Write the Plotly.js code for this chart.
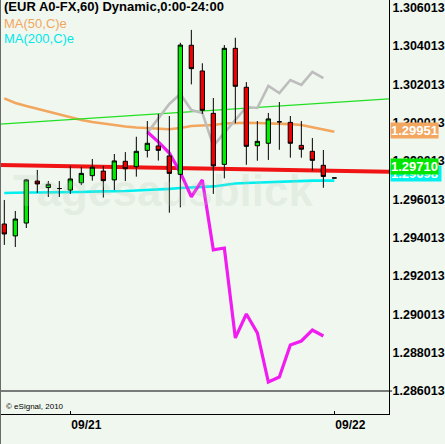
<!DOCTYPE html>
<html><head><meta charset="utf-8">
<script src="https://cdn.plot.ly/plotly-3.0.1.min.js"></script>
<style>html,body{margin:0;padding:0;background:#f0f7ef;}#chart{width:445px;height:444px;}</style>
</head><body><div id="chart"></div>
<script>
const times = ['2010-09-20 18:00','2010-09-20 19:00','2010-09-20 20:00','2010-09-20 21:00','2010-09-20 22:00','2010-09-20 23:00',
  '2010-09-21 00:00','2010-09-21 01:00','2010-09-21 02:00','2010-09-21 03:00','2010-09-21 04:00','2010-09-21 05:00',
  '2010-09-21 06:00','2010-09-21 07:00','2010-09-21 08:00','2010-09-21 09:00','2010-09-21 10:00','2010-09-21 11:00',
  '2010-09-21 12:00','2010-09-21 13:00','2010-09-21 14:00','2010-09-21 15:00','2010-09-21 16:00','2010-09-21 17:00',
  '2010-09-21 18:00','2010-09-21 19:00','2010-09-21 20:00','2010-09-21 21:00','2010-09-21 22:00','2010-09-21 23:00',
  '2010-09-22 00:00'];
const openP  = [1.29472,1.29410,1.29477,1.29696,1.29662,1.29657,1.29649,1.29687,1.29724,1.29748,1.29702,1.29799,1.29771,1.29856,1.29879,1.29827,1.29731,1.30404,1.30270,1.30049,1.29783,1.30388,1.30185,1.29880,1.29893,1.30005,1.30002,1.29882,1.29851,1.29778,1.29712];
const highP  = [1.29597,1.29540,1.29707,1.29754,1.29696,1.29696,1.29775,1.29769,1.29811,1.29775,1.29837,1.29847,1.29927,1.30009,1.30046,1.30035,1.30417,1.30484,1.30310,1.30129,1.30405,1.30443,1.30212,1.30009,1.30051,1.30108,1.30035,1.30009,1.29920,1.29858,1.29712];
const lowP   = [1.29363,1.29352,1.29451,1.29634,1.29613,1.29613,1.29629,1.29675,1.29698,1.29610,1.29649,1.29696,1.29719,1.29819,1.29803,1.29531,1.29559,1.30200,1.30046,1.29629,1.29710,1.29997,1.29781,1.29802,1.29806,1.29859,1.29818,1.29818,1.29750,1.29661,1.29712];
const closeP = [1.29420,1.29498,1.29702,1.29681,1.29679,1.29657,1.29707,1.29736,1.29768,1.29698,1.29801,1.29760,1.29851,1.29893,1.29856,1.29736,1.30405,1.30282,1.30065,1.29775,1.30388,1.30190,1.29877,1.29903,1.30020,1.30005,1.29893,1.29862,1.29804,1.29720,1.29712];

const ma50  = [1.30127,1.30103,1.30087,1.30072,1.30056,1.30040,1.30026,1.30014,1.30004,1.29995,1.29986,1.29980,1.29975,1.29971,1.29967,1.29966,1.29973,1.29983,1.29986,1.29988,1.29996,1.29999,1.30000,1.29999,1.29997,1.29997,1.29993,1.29988,1.29975,1.29965,1.29953];
const ma200 = [1.29634,1.29636,1.29636,1.29636,1.29636,1.29636,1.29639,1.29639,1.29641,1.29641,1.29641,1.29644,1.29647,1.29649,1.29652,1.29655,1.29660,1.29662,1.29665,1.29668,1.29675,1.29683,1.29686,1.29688,1.29691,1.29694,1.29696,1.29698,1.29698,1.29698,1.29698];

const overlayTimes = times.slice(13, 30);
const grayLine    = [1.29947,1.30025,1.30098,1.30150,1.30066,1.30051,1.29879,1.29947,1.30014,1.30082,1.30077,1.30192,1.30155,1.30223,1.30197,1.30265,1.30233];
const magentaLine = [1.29952,1.29900,1.29842,1.29741,1.29614,1.29702,1.29337,1.29347,1.28878,1.29003,1.28904,1.28648,1.28674,1.28841,1.28862,1.28919,1.28888];

const trendTimes = ['2010-09-20 17:36:30','2010-09-22 04:58:00'];
const trendGreen = [1.29993, 1.30124];
const trendRed   = [1.29780, 1.29745];

const yTicks = [1.286013,1.288013,1.290013,1.292013,1.294013,1.296013,1.298013,1.300013,1.302013,1.304013,1.306013];
const xTickVals = ['2010-09-21 00:00','2010-09-22 00:00'];
const xTickText = ['09/21','09/22'];
const lastPrice = 1.29710, ma50Last = 1.29951, ma200Last = 1.29698;

const yRange = [1.284814, 1.306400];
const xRange = ['2010-09-20 17:36:30','2010-09-22 04:58:00'];
const BG = '#f0f7ef';
const FONT = 'Liberation Sans, Arial, sans-serif';

const traces = [
  {type:'scatter', mode:'lines', x:times, y:ma50, line:{color:'#f2a65e', width:2.6}, hoverinfo:'skip'},
  {type:'scatter', mode:'lines', x:times, y:ma200, line:{color:'#00f0f0', width:2.6}, hoverinfo:'skip'},
  {type:'scatter', mode:'lines', x:trendTimes, y:trendGreen, line:{color:'#22e022', width:1.2}, hoverinfo:'skip'},
  {type:'scatter', mode:'lines', x:trendTimes, y:trendRed, line:{color:'#f01414', width:4}, hoverinfo:'skip'},
  {type:'scatter', mode:'lines', x:overlayTimes, y:grayLine, line:{color:'#bdbdbd', width:2.6}, hoverinfo:'skip'},
  {type:'scatter', mode:'lines', x:overlayTimes, y:magentaLine, line:{color:'#f01cf0', width:3.2}, hoverinfo:'skip'},
  {type:'candlestick', x:times, open:openP, high:highP, low:lowP, close:closeP, yaxis:'y2',
    increasing:{fillcolor:'#00ee00', line:{color:'#000', width:1}},
    decreasing:{fillcolor:'#ee0000', line:{color:'#000', width:1}},
    whiskerwidth:0, hoverinfo:'skip'}
];

const layout = {
  width:445, height:444,
  margin:{l:0, r:56, t:0, b:30},
  paper_bgcolor:BG, plot_bgcolor:BG,
  showlegend:false,
  boxgap:0.44,
  font:{family:FONT, color:'#000'},
  xaxis:{type:'date', range:xRange, showgrid:false, zeroline:false,
    showline:true, linecolor:'#000', linewidth:1,
    ticks:'inside', ticklen:3, tickcolor:'#000',
    tickvals:xTickVals, ticktext:xTickText, ticklabelposition:'outside right',
    tickfont:{family:FONT, size:12, color:'#000', weight:'bold'},
    rangeslider:{visible:false}, fixedrange:true},
  yaxis:{side:'right', range:yRange, showgrid:false, zeroline:false,
    showline:true, linecolor:'#000', linewidth:1, ticks:'',
    tickvals:yTicks, tickformat:'.6f',
    tickfont:{family:FONT, size:12.5, color:'#000', weight:'bold'}, fixedrange:true},
  yaxis2:{overlaying:'y', side:'right', range:yRange, showgrid:false, zeroline:false,
    showline:false, showticklabels:false, ticks:'', fixedrange:true},
  shapes:[
    {type:'line', xref:'paper', yref:'y', x0:0, x1:1.008, y0:yTicks[0], y1:yTicks[0], line:{color:'#000', width:1}},
    {type:'line', xref:'paper', yref:'paper', x0:0, x1:0, y0:-30/414, y1:1, line:{color:'#6b6b6b', width:2}}
  ],
  annotations:[
    {xref:'paper', yref:'paper', x:0.004, y:1-7/414, xanchor:'left', yanchor:'middle', showarrow:false,
      text:'(EUR A0-FX,60) Dynamic,0:00-24:00', font:{family:FONT, size:13, color:'#000', weight:'bold'}},
    {xref:'paper', yref:'paper', x:0.004, y:1-23/414, xanchor:'left', yanchor:'middle', showarrow:false,
      text:'MA(50,C)e', font:{family:FONT, size:13, color:'#f2a65e'}},
    {xref:'paper', yref:'paper', x:0.004, y:1-39/414, xanchor:'left', yanchor:'middle', showarrow:false,
      text:'MA(200,C)e', font:{family:FONT, size:13, color:'#00e8e8'}},
    {xref:'paper', yref:'paper', x:0.01, y:8/414, xanchor:'left', yanchor:'middle', showarrow:false,
      text:'\u00a9 eSignal, 2010', font:{family:FONT, size:8, color:'#000'}},
    {xref:'paper', yref:'y', x:1, y:ma50Last, xanchor:'left', yanchor:'middle', xshift:1, yshift:2, showarrow:false,
      text:ma50Last.toFixed(5), bgcolor:'#f2a65e', borderpad:0,
      font:{family:FONT, size:13, color:'#fff', weight:'bold'}},
    {xref:'paper', yref:'y', x:1, y:ma200Last, xanchor:'left', yanchor:'middle', xshift:1, yshift:7, showarrow:false,
      text:ma200Last.toFixed(5)+'\u2009', bgcolor:'#00f0f0', borderpad:0,
      font:{family:FONT, size:13, color:'#fff', weight:'bold'}},
    {xref:'paper', yref:'y', x:1, y:lastPrice, xanchor:'left', yanchor:'middle', xshift:1, yshift:12, showarrow:false,
      text:lastPrice.toFixed(5), bgcolor:'#00e600', borderpad:0,
      font:{family:FONT, size:13, color:'#fff', weight:'bold'}},
    {xref:'paper', yref:'paper', x:0.42, y:1-190/414, xanchor:'center', yanchor:'middle', showarrow:false,
      text:'Tagesausblick', font:{family:FONT, size:44, color:'rgba(185,205,180,0.22)', weight:'bold'}}
  ]
};

Plotly.newPlot('chart', traces, layout, {staticPlot:true, displayModeBar:false});
</script>
</body></html>
